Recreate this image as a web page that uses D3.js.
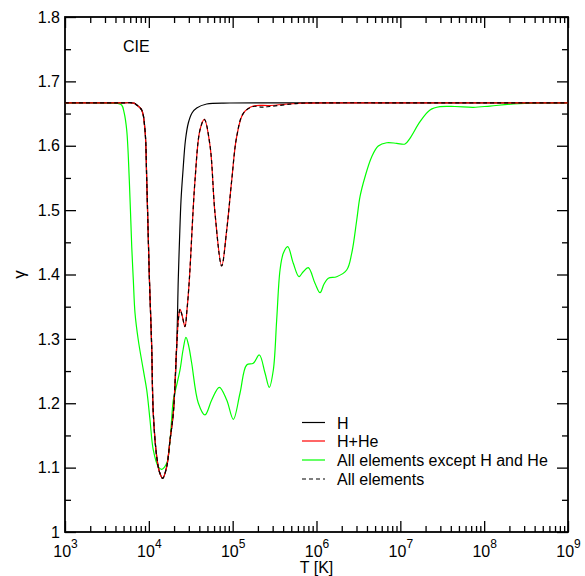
<!DOCTYPE html>
<html>
<head>
<meta charset="utf-8">
<script src="https://cdn.jsdelivr.net/npm/d3@7"></script>
<style>
body { margin: 0; background: #fff; }
svg { display: block; font-family: "Liberation Sans", Arial, sans-serif; }
</style>
</head>
<body>
<svg id="chart" width="585" height="576"></svg>
<script>
// ---- data (log10 T, gamma) ----
const hLogT = [3.0, 3.5, 3.7, 3.823, 3.855, 3.915, 3.954, 3.975, 4.006, 4.034, 4.053, 4.094, 4.127, 4.165, 4.213, 4.253, 4.292, 4.332, 4.351, 4.366, 4.384, 4.408, 4.437, 4.471, 4.515, 4.571, 4.690, 4.968, 5.5, 6, 7, 8, 9];
const hGamma = [1.6667, 1.6667, 1.6667, 1.6662, 1.6633, 1.6555, 1.6245, 1.5468, 1.3966, 1.2878, 1.1849, 1.117, 1.0932, 1.0834, 1.1014, 1.1429, 1.1849, 1.2878, 1.3915, 1.4536, 1.5157, 1.5623, 1.6089, 1.6353, 1.6509, 1.6586, 1.6649, 1.6664, 1.6667, 1.6667, 1.6667, 1.6667, 1.6667];

const hheLogT = [3.0, 3.5, 3.7, 3.823, 3.855, 3.915, 3.954, 3.975, 4.006, 4.034, 4.053, 4.094, 4.127, 4.165, 4.213, 4.253, 4.292, 4.332, 4.354, 4.372, 4.396, 4.431, 4.455, 4.483, 4.551, 4.610, 4.662, 4.730, 4.789, 4.869, 4.929, 4.989, 5.048, 5.127, 5.246, 5.445, 5.803, 6.2, 7, 8, 9];
const hheGamma = [1.6667, 1.6667, 1.6667, 1.6662, 1.6633, 1.6555, 1.6245, 1.5468, 1.3966, 1.2878, 1.1849, 1.117, 1.0932, 1.0834, 1.1014, 1.1429, 1.1849, 1.2878, 1.3324, 1.346, 1.337, 1.319, 1.345, 1.3915, 1.5468, 1.6245, 1.641, 1.60, 1.4955, 1.4132, 1.4691, 1.5468, 1.614, 1.6504, 1.6617, 1.6625, 1.666, 1.6667, 1.6667, 1.6667, 1.6667];

const metLogT = [3.0, 3.4, 3.632, 3.676, 3.704, 3.736, 3.767, 3.796, 3.815, 3.835, 3.874, 3.934, 3.975, 4.014, 4.053, 4.113, 4.154, 4.213, 4.253, 4.292, 4.324, 4.372, 4.408, 4.443, 4.473, 4.511, 4.590, 4.670, 4.750, 4.841, 4.929, 5.008, 5.088, 5.167, 5.246, 5.318, 5.386, 5.437, 5.485, 5.525, 5.565, 5.604, 5.657, 5.723, 5.791, 5.839, 5.902, 5.982, 6.042, 6.090, 6.141, 6.241, 6.360, 6.420, 6.480, 6.519, 6.579, 6.659, 6.737, 6.838, 6.957, 7.056, 7.115, 7.235, 7.354, 7.473, 7.652, 7.871, 8.070, 8.348, 8.666, 9.0];
const metGamma = [1.6667, 1.6667, 1.6656, 1.6633, 1.6524, 1.6245, 1.5468, 1.4432, 1.3915, 1.3402, 1.2982, 1.2517, 1.2206, 1.174, 1.1274, 1.1014, 1.0974, 1.1067, 1.1429, 1.2051, 1.2237, 1.2517, 1.2827, 1.3024, 1.2905, 1.2625, 1.2004, 1.1818, 1.2051, 1.2248, 1.2051, 1.1751, 1.2159, 1.2594, 1.262, 1.275, 1.247, 1.2248, 1.2517, 1.3293, 1.407, 1.4329, 1.4432, 1.4174, 1.3966, 1.4039, 1.4106, 1.3863, 1.3717, 1.3852, 1.3941, 1.3966, 1.407, 1.4329, 1.4847, 1.5209, 1.5519, 1.583, 1.5996, 1.6047, 1.6038, 1.6027, 1.6116, 1.6374, 1.6555, 1.6607, 1.661, 1.6597, 1.6617, 1.6649, 1.6664, 1.6667];

const allLogT = [3.0, 3.5, 3.7, 3.823, 3.855, 3.915, 3.954, 3.975, 4.006, 4.034, 4.053, 4.094, 4.127, 4.165, 4.213, 4.253, 4.292, 4.332, 4.354, 4.372, 4.396, 4.431, 4.455, 4.483, 4.551, 4.610, 4.662, 4.730, 4.789, 4.869, 4.929, 4.989, 5.048, 5.127, 5.246, 5.35, 5.445, 5.803, 6.2, 7, 8, 9];
const allGamma = [1.6667, 1.6667, 1.6667, 1.6662, 1.6633, 1.6555, 1.6245, 1.5468, 1.3966, 1.2878, 1.1849, 1.117, 1.0932, 1.0834, 1.1014, 1.1429, 1.1849, 1.2878, 1.3324, 1.346, 1.337, 1.319, 1.345, 1.3915, 1.5468, 1.6245, 1.641, 1.60, 1.4955, 1.4132, 1.4691, 1.5468, 1.614, 1.6504, 1.661, 1.6600, 1.6610, 1.666, 1.6667, 1.6667, 1.6667, 1.6667];

const yTicks = [1.0, 1.1, 1.2, 1.3, 1.4, 1.5, 1.6, 1.7, 1.8];
const yTickLabels = ["1", "1.1", "1.2", "1.3", "1.4", "1.5", "1.6", "1.7", "1.8"];
const xDecades = [3, 4, 5, 6, 7, 8, 9];
const legendLabels = ["H", "H+He", "All elements except H and He", "All elements"];

// ---- layout ----
const L = 65, R = 568, T = 17, B = 532;
const svg = d3.select("#chart");
const x = d3.scaleLog().domain([1e3, 1e9]).range([L, R]);
const y = d3.scaleLinear().domain([1.0, 1.8]).range([B, T]);

const majorX = xDecades.map(d => Math.pow(10, d));
const minorX = [];
for (let d = 3; d < 9; d++) for (let m = 2; m <= 9; m++) minorX.push(m * Math.pow(10, d));
const minorY = d3.range(1.05, 1.8, 0.1);

function styleAxis(g) {
  g.select(".domain").remove();
  g.selectAll("line").attr("stroke", "#000").attr("stroke-width", 1.3);
}

// bottom axis
svg.append("g").attr("transform", `translate(0,${B})`)
  .call(d3.axisBottom(x).tickValues(majorX).tickSize(-11).tickPadding(9).tickFormat(""))
  .call(styleAxis)
  .call(g => g.selectAll(".tick text").each(function(d) {
    const t = d3.select(this).attr("font-size", 16).attr("fill", "#000")
      .attr("font-family", "Liberation Sans, Arial, sans-serif").attr("dy", null).attr("y", 25);
    t.append("tspan").text("10");
    t.append("tspan").attr("font-size", 12).attr("dy", -9).text(String(Math.round(Math.log10(d))));
  }));
svg.append("g").attr("transform", `translate(0,${B})`)
  .call(d3.axisBottom(x).tickValues(minorX).tickSize(-6).tickFormat(""))
  .call(styleAxis);
// top axis
svg.append("g").attr("transform", `translate(0,${T})`)
  .call(d3.axisTop(x).tickValues(majorX).tickSize(-11).tickFormat(""))
  .call(styleAxis);
svg.append("g").attr("transform", `translate(0,${T})`)
  .call(d3.axisTop(x).tickValues(minorX).tickSize(-6).tickFormat(""))
  .call(styleAxis);
// left axis
svg.append("g").attr("transform", `translate(${L},0)`)
  .call(d3.axisLeft(y).tickValues(yTicks).tickSize(-11).tickPadding(5)
    .tickFormat((d, i) => yTickLabels[i]))
  .call(styleAxis)
  .call(g => g.selectAll(".tick text").attr("font-size", 16).attr("fill", "#000")
    .attr("font-family", "Liberation Sans, Arial, sans-serif"));
svg.append("g").attr("transform", `translate(${L},0)`)
  .call(d3.axisLeft(y).tickValues(minorY).tickSize(-6).tickFormat(""))
  .call(styleAxis);
// right axis
svg.append("g").attr("transform", `translate(${R},0)`)
  .call(d3.axisRight(y).tickValues(yTicks).tickSize(-11).tickFormat(""))
  .call(styleAxis);
svg.append("g").attr("transform", `translate(${R},0)`)
  .call(d3.axisRight(y).tickValues(minorY).tickSize(-6).tickFormat(""))
  .call(styleAxis);

// frame
svg.append("rect").attr("x", L).attr("y", T).attr("width", R - L).attr("height", B - T)
  .attr("fill", "none").attr("stroke", "#000").attr("stroke-width", 1.8);

// lines
const line = d3.line().x(d => x(Math.pow(10, d[0]))).y(d => y(d[1])).curve(d3.curveCatmullRom.alpha(0.5));
const zip = (a, b) => a.map((v, i) => [v, b[i]]);
const plot = svg.append("g");
plot.append("path").datum(zip(metLogT, metGamma)).attr("d", line)
  .attr("fill", "none").attr("stroke", "#00ff00").attr("stroke-width", 1.2);
plot.append("path").datum(zip(hLogT, hGamma)).attr("d", line)
  .attr("fill", "none").attr("stroke", "#000").attr("stroke-width", 1.2);
plot.append("path").datum(zip(hheLogT, hheGamma)).attr("d", line)
  .attr("fill", "none").attr("stroke", "#ff0000").attr("stroke-width", 1.2);
plot.append("path").datum(zip(allLogT, allGamma)).attr("d", line)
  .attr("fill", "none").attr("stroke", "#000").attr("stroke-width", 1.2)
  .attr("stroke-dasharray", "4,3");

// texts
svg.append("text").attr("x", 123).attr("y", 52).attr("font-size", 16).text("CIE");
svg.append("text").attr("x", (L + R) / 2).attr("y", 573).attr("text-anchor", "middle")
  .attr("font-size", 16).text("T [K]");
svg.append("text").attr("transform", `translate(25,${(T + B) / 2}) rotate(-90)`)
  .attr("text-anchor", "middle").attr("font-size", 17).text("γ");

// legend
const legColors = ["#000", "#ff0000", "#00ff00", "#000"];
const legDash = [null, null, null, "4,3"];
const legY = [422.5, 441, 460, 479];
const leg = svg.append("g");
legendLabels.forEach((lab, i) => {
  leg.append("line").attr("x1", 302).attr("x2", 325).attr("y1", legY[i]).attr("y2", legY[i])
    .attr("stroke", legColors[i]).attr("stroke-width", 1.2).attr("stroke-dasharray", legDash[i]);
  leg.append("text").attr("x", 337).attr("y", legY[i] + 6).attr("font-size", 16).text(lab);
});
</script>
</body>
</html>
